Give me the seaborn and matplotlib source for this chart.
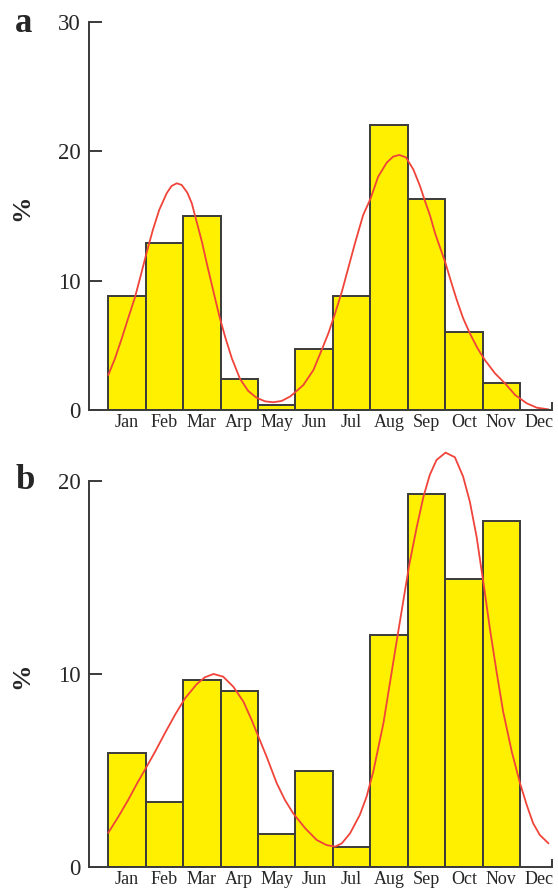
import matplotlib.pyplot as plt
import seaborn as sns

# Monthly share (%) - panel a and panel b
months = ['Jan', 'Feb', 'Mar', 'Arp', 'May', 'Jun', 'Jul', 'Aug', 'Sep', 'Oct', 'Nov', 'Dec']
bar_months = months[:11]

pct_a = [8.8, 12.9, 15.0, 2.4, 0.4, 4.7, 8.8, 22.0, 16.3, 6.0, 2.1]
pct_b = [5.9, 3.4, 9.7, 9.1, 1.7, 5.0, 1.05, 12.0, 19.3, 14.9, 17.9]

# fitted curves (x in month positions, Jan = 0)
fit_a_x = [-0.50, -0.32, -0.14, 0.03, 0.21, 0.37, 0.53, 0.69, 0.86, 1.06, 1.19, 1.33,
           1.46, 1.61, 1.73, 1.86, 2.00, 2.13, 2.31, 2.47, 2.62, 2.80, 3.02, 3.24,
           3.46, 3.69, 3.91, 4.13, 4.35, 4.44, 4.71, 4.98, 5.20, 5.38, 5.56, 5.74,
           5.91, 6.09, 6.31, 6.51, 6.71, 6.94, 7.11, 7.27, 7.45, 7.65, 7.83, 7.96,
           8.10, 8.23, 8.51, 8.66, 8.81, 8.98, 9.16, 9.36, 9.56, 9.83, 10.10, 10.37,
           10.68, 10.95, 11.26]
fit_a_y = [2.71, 4.00, 5.54, 7.09, 8.69, 10.44, 12.24, 13.92, 15.47, 16.76, 17.32, 17.53,
           17.40, 16.81, 15.99, 14.56, 13.02, 11.35, 9.15, 7.22, 5.67, 4.00, 2.40, 1.47,
           0.95, 0.67, 0.60, 0.70, 1.03, 1.24, 1.93, 3.09, 4.64, 5.93, 7.48, 9.15,
           10.96, 12.89, 15.08, 16.37, 18.04, 19.13, 19.59, 19.72, 19.54, 18.60, 17.30, 16.16,
           15.00, 13.67, 11.35, 9.90, 8.51, 7.10, 5.93, 4.80, 3.87, 2.84, 2.06, 1.16,
           0.52, 0.18, 0.05]

fit_b_x = [-0.50, -0.23, 0.03, 0.26, 0.50, 0.75, 1.01, 1.28, 1.55, 1.86, 2.08, 2.31,
           2.57, 2.84, 3.11, 3.33, 3.51, 3.73, 4.00, 4.22, 4.44, 4.76, 5.07, 5.33,
           5.56, 5.74, 5.96, 6.22, 6.40, 6.58, 6.85, 7.21, 7.54, 7.74, 7.92, 8.09,
           8.27, 8.51, 8.76, 8.98, 9.16, 9.34, 9.55, 9.70, 9.88, 10.05, 10.28, 10.50,
           10.68, 10.85, 11.03, 11.26]
fit_b_y = [1.79, 2.62, 3.48, 4.31, 5.12, 5.98, 6.93, 7.88, 8.74, 9.47, 9.83, 10.00,
           9.86, 9.34, 8.57, 7.62, 6.76, 5.72, 4.35, 3.48, 2.79, 2.02, 1.41, 1.15,
           1.07, 1.24, 1.76, 2.71, 3.65, 4.95, 7.45, 11.76, 15.64, 17.59, 19.17, 20.30,
           21.07, 21.45, 21.21, 20.21, 18.91, 17.10, 14.35, 12.28, 10.04, 8.05, 5.98, 4.35,
           3.22, 2.28, 1.67, 1.24]

yellow = '#FFF000'
edge = '#3a3a3a'
red = '#F0443A'

sns.set_style('ticks')
plt.rcParams['font.family'] = ['Liberation Serif', 'DejaVu Serif']


def draw_panel(ax, vals, cx, cy, ymax, spine_top, yticks):
    sns.barplot(x=bar_months, y=vals, color=yellow, saturation=1, width=1.0,
                edgecolor=edge, linewidth=1.4, ax=ax)
    sns.lineplot(x=cx, y=cy, color=red, linewidth=1.3, sort=False,
                 estimator=None, ax=ax)
    ax.set_xlim(-1.016, 11.354)
    ax.set_ylim(0, ymax)
    ax.set_xticks(range(12))
    ax.set_xticklabels(months)
    ax.set_xticks([11.354], minor=True)
    ax.set_yticks(yticks)
    ax.tick_params(axis='x', which='major', length=0, pad=3, labelsize=13)
    ax.tick_params(axis='x', which='minor', direction='in', length=6, width=1.4, color=edge)
    ax.tick_params(axis='y', direction='in', length=9, width=1.4, pad=6,
                   labelsize=16.5, color=edge)
    ax.set_xlabel('')
    ax.set_ylabel('')
    for s in ['top', 'right']:
        ax.spines[s].set_visible(False)
    for s in ['left', 'bottom']:
        ax.spines[s].set_linewidth(1.4)
        ax.spines[s].set_color(edge)
    ax.spines['left'].set_bounds(0, spine_top)


fig = plt.figure(figsize=(5.58, 8.9), dpi=100)
ax1 = fig.add_axes([0.1595, 0.5393, 0.8297, 0.436])
ax2 = fig.add_axes([0.1595, 0.0255, 0.8297, 0.4779])

draw_panel(ax1, pct_a, fit_a_x, fit_a_y, 30, 30, [0, 10, 20, 30])
draw_panel(ax2, pct_b, fit_b_x, fit_b_y, 22, 20, [0, 10, 20])

fig.text(15 / 558, 1 - 31.5 / 890, 'a', fontsize=25, fontweight='bold', va='baseline')
fig.text(15 / 558, 1 - 489 / 890, 'b', fontsize=25, fontweight='bold', va='baseline')
fig.text(22 / 558, 1 - 208 / 890, '%', rotation=90, fontsize=19, fontweight='bold',
         ha='center', va='center')
fig.text(22 / 558, 1 - 676 / 890, '%', rotation=90, fontsize=19, fontweight='bold',
         ha='center', va='center')

fig.savefig('out.png', dpi=100)
